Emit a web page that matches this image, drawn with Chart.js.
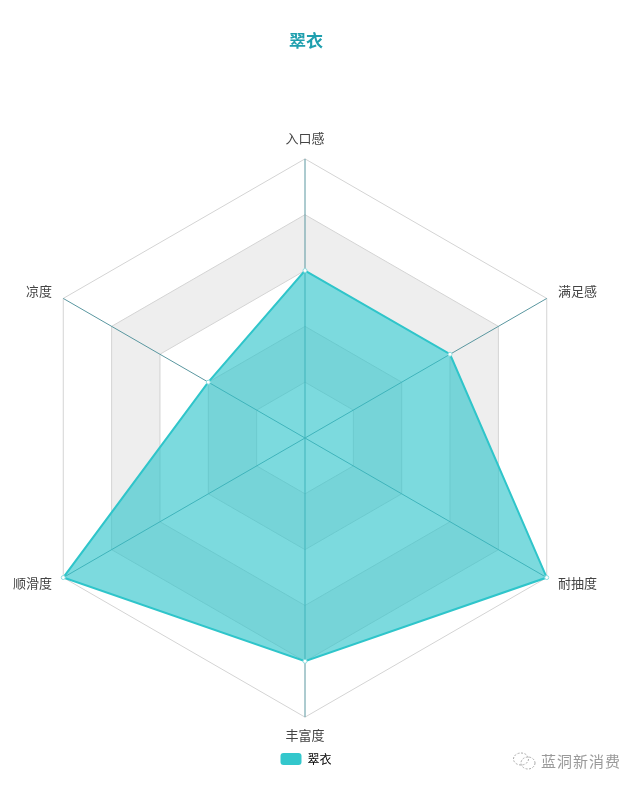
<!DOCTYPE html>
<html><head><meta charset="utf-8">
<style>
html,body{margin:0;padding:0;background:#fff;width:640px;height:791px;overflow:hidden}
#w{position:relative;width:640px;height:791px}
#mark{position:absolute;left:512px;top:750px;display:flex;align-items:center;font:15px "Noto Sans CJK SC";color:#9a9a9a;letter-spacing:1px}
#mark svg{margin-right:4px}
</style>
<script src="https://cdn.jsdelivr.net/npm/chart.js@4"></script>
</head><body><div id="w"><canvas id="c" width="640" height="791"></canvas>
<div id="mark"><svg width="25" height="18" viewBox="0 0 25 18" fill="none" stroke="#aaa" stroke-width="1" stroke-dasharray="2 1.5"><ellipse cx="9" cy="7" rx="7.5" ry="6"/><ellipse cx="16" cy="11" rx="7" ry="6"/></svg><span>蓝洞新消费</span></div></div>
<script>
const seriesName = '翠衣';
const categories = ['入口感','满足感','耐抽度','丰富度','顺滑度','凉度'];
const seriesValues = [3,3,5,4,5,2];
const axisMax = 5;
const shadedBands = [[1,2],[3,4]];
const labelNudges = [0,7,-9,-3,-9,7];
const bandPlugin = {
  id:'bands',
  beforeDraw(chart){
    const s = chart.scales.r, ctx = chart.ctx, n = categories.length;
    // side labels sit closer to their spoke ends than the library's default
    (s._pointLabelItems||[]).forEach((it,i)=>{
      const dy = labelNudges[i];
      it.y += dy; it.top += dy; it.bottom += dy;
    });
    const trace = v => {
      const d = s.getDistanceFromCenterForValue(v);
      for(let i=0;i<n;i++){const p=s.getPointPosition(i,d); i?ctx.lineTo(p.x,p.y):ctx.moveTo(p.x,p.y);}
      ctx.closePath();
    };
    ctx.save();
    ctx.fillStyle='#eeeeee';
    shadedBands.forEach(([a,b])=>{ctx.beginPath();trace(b);trace(a);ctx.fill('evenodd');});
    ctx.restore();
  }
};
new Chart(document.getElementById('c'),{
  type:'radar',
  plugins:[bandPlugin],
  data:{labels:categories,datasets:[{
    label:seriesName,data:seriesValues,
    borderColor:'#2fc5ca',borderWidth:2,
    backgroundColor:'rgba(47,197,202,0.63)',
    pointRadius:2,pointBackgroundColor:'#fff',pointBorderColor:'#8fdde0',pointBorderWidth:1
  }]},
  options:{
    responsive:false,animation:false,devicePixelRatio:1,
    layout:{padding:{left:14,right:42,top:0,bottom:16}},
    plugins:{
      title:{display:true,text:seriesName,color:'#1e9fae',
        font:{size:17,weight:'bold',family:'"Noto Sans CJK SC"'},padding:{top:30,bottom:78}},
      legend:{position:'bottom',
        labels:{boxWidth:21,boxHeight:12,color:'#444',font:{size:12,family:'"Noto Sans CJK SC"'},padding:4,
          generateLabels:c=>[{text:seriesName,fillStyle:'#33c7cc',strokeStyle:'#33c7cc',lineWidth:0,datasetIndex:0,borderRadius:3}]}},
      tooltip:{enabled:false}
    },
    scales:{r:{
      min:0,max:axisMax,
      ticks:{display:false,stepSize:1},
      grid:{color:'#d4d4d4',lineWidth:1},
      angleLines:{color:'#5a97a0',lineWidth:1},
      pointLabels:{color:'#444',padding:13,font:{size:13,family:'"Noto Sans CJK SC"'}}
    }}
  }
});
</script></body></html>
